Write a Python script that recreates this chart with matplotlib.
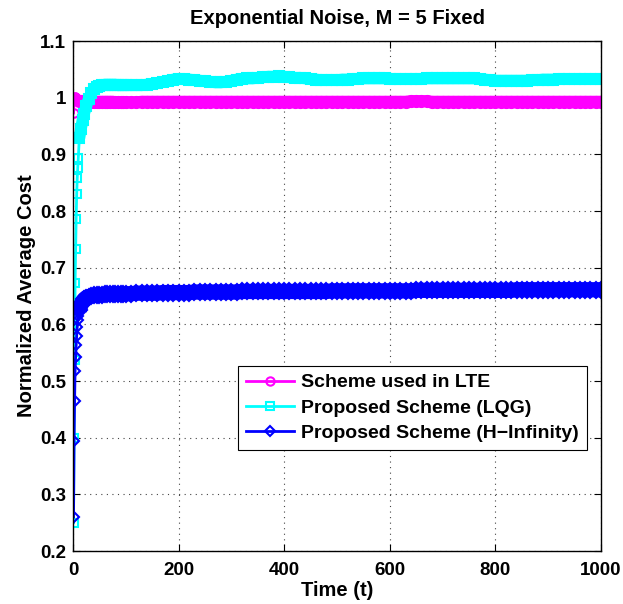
import matplotlib
matplotlib.use("Agg")
import matplotlib.pyplot as plt
import numpy as np

plt.rcParams['font.family'] = ['Liberation Sans', 'DejaVu Sans']
plt.rcParams['font.weight'] = 'bold'

# ---------------- data ----------------
t_early = [1, 2, 3, 4, 5, 6, 7, 8, 9, 10, 12, 15, 18, 21, 25, 30, 35, 40, 45,
           50, 55, 60, 65, 70, 75, 80, 85, 90, 95]
lte_early = [0.973, 0.998, 1.002, 1.001, 1.000, 0.999, 0.998, 0.997, 0.996, 0.996,
             0.995, 0.994, 0.994, 0.993, 0.993, 0.993, 0.993, 0.993, 0.993,
             0.993, 0.993, 0.993, 0.993, 0.993, 0.993, 0.992, 0.992, 0.992, 0.992]
lqg_early = [0.250, 0.400, 0.537, 0.673, 0.733, 0.786, 0.830, 0.858, 0.876, 0.893,
             0.929, 0.945, 0.960, 0.972, 0.985, 0.998, 1.008, 1.015, 1.019,
             1.021, 1.022, 1.023, 1.023, 1.023, 1.023, 1.023, 1.022, 1.022, 1.022]
hinf_early = [0.260, 0.395, 0.465, 0.518, 0.543, 0.563, 0.580, 0.595, 0.607, 0.615,
              0.625, 0.634, 0.640, 0.644, 0.647, 0.649, 0.650, 0.651, 0.651,
              0.652, 0.652, 0.653, 0.653, 0.653, 0.653, 0.654, 0.654, 0.654, 0.654]

t_late = list(range(100, 1001, 10))
lte_late = [0.992, 0.992, 0.992, 0.993, 0.993, 0.993, 0.993, 0.993, 0.993, 0.993,
            0.993, 0.993, 0.993, 0.993, 0.993, 0.993, 0.993, 0.993, 0.993, 0.993,
            0.993, 0.993, 0.993, 0.993, 0.993, 0.993, 0.993, 0.993, 0.993, 0.993,
            0.993, 0.993, 0.993, 0.993, 0.993, 0.993, 0.993, 0.993, 0.993, 0.993,
            0.993, 0.993, 0.993, 0.993, 0.993, 0.993, 0.993, 0.993, 0.993, 0.993,
            0.993, 0.993, 0.993, 0.993, 0.994, 0.994, 0.994, 0.994, 0.993, 0.993,
            0.993, 0.993, 0.993, 0.993, 0.993, 0.993, 0.993, 0.993, 0.993, 0.993,
            0.993, 0.993, 0.993, 0.993, 0.993, 0.993, 0.993, 0.993, 0.993, 0.993,
            0.993, 0.993, 0.993, 0.993, 0.993, 0.993, 0.993, 0.993, 0.993, 0.993,
            0.993]
lqg_late = [1.022, 1.022, 1.022, 1.022, 1.023, 1.024, 1.026, 1.028, 1.030, 1.032,
            1.033, 1.033, 1.032, 1.031, 1.030, 1.029, 1.028, 1.027, 1.027, 1.028,
            1.030, 1.032, 1.033, 1.034, 1.034, 1.035, 1.036, 1.037, 1.037, 1.038,
            1.037, 1.036, 1.035, 1.035, 1.034, 1.033, 1.032, 1.031, 1.031, 1.031,
            1.031, 1.032, 1.032, 1.033, 1.033, 1.034, 1.034, 1.034, 1.034, 1.034,
            1.033, 1.033, 1.033, 1.033, 1.033, 1.033, 1.033, 1.034, 1.034, 1.034,
            1.034, 1.034, 1.034, 1.034, 1.034, 1.034, 1.034, 1.033, 1.032, 1.031,
            1.030, 1.030, 1.030, 1.030, 1.030, 1.030, 1.030, 1.031, 1.031, 1.032,
            1.032, 1.032, 1.033, 1.033, 1.033, 1.033, 1.033, 1.033, 1.033, 1.033,
            1.033]
hinf_late = [0.654, 0.654, 0.655, 0.655, 0.655, 0.655, 0.655, 0.656, 0.656, 0.656,
             0.656, 0.656, 0.656, 0.657, 0.657, 0.657, 0.657, 0.657, 0.657, 0.657,
             0.657, 0.657, 0.658, 0.658, 0.658, 0.658, 0.658, 0.658, 0.658, 0.658,
             0.658, 0.658, 0.658, 0.658, 0.658, 0.658, 0.658, 0.658, 0.658, 0.659,
             0.659, 0.659, 0.659, 0.659, 0.659, 0.659, 0.659, 0.659, 0.659, 0.659,
             0.659, 0.659, 0.659, 0.659, 0.659, 0.660, 0.660, 0.660, 0.660, 0.660,
             0.660, 0.660, 0.660, 0.660, 0.660, 0.660, 0.660, 0.660, 0.660, 0.660,
             0.660, 0.660, 0.660, 0.660, 0.661, 0.661, 0.661, 0.661, 0.661, 0.661,
             0.661, 0.661, 0.661, 0.661, 0.661, 0.661, 0.661, 0.661, 0.661, 0.661,
             0.661]

t = t_early + t_late
lte = lte_early + lte_late
lqg = lqg_early + lqg_late
hinf = hinf_early + hinf_late

labels = ['Scheme used in LTE', 'Proposed Scheme (LQG)', 'Proposed Scheme (H\u2212Infinity)']
xticks = [0, 200, 400, 600, 800, 1000]
yticks = [0.2, 0.3, 0.4, 0.5, 0.6, 0.7, 0.8, 0.9, 1.0, 1.1]
yticklabels = ['0.2', '0.3', '0.4', '0.5', '0.6', '0.7', '0.8', '0.9', '1', '1.1']

# ---------------- plot ----------------
FS = 14.5
fig = plt.figure(figsize=(6.23, 6.04), dpi=100)
ax = fig.add_axes([73/623, 1 - 551/604, (601-73)/623, (551-41)/604])

# (values, colour, marker, small marker size, band marker size, band line width)
series = [
    (lte, '#ff00ff', 'o', 6.0, 8.0, 8.5),
    (lqg, '#00ffff', 's', 6.0, 7.5, 8.5),
    (hinf, '#0000ff', 'D', 4.8, 8.3, 11.0),
]
for (y, c, m, ms_small, ms_band, lw_band), lab in zip(series, labels):
    ax.plot(t, y, color=c, lw=2, marker=m, ms=ms_small, mfc='none', mew=1.5, label=lab)
    # dense, overlapping markers along the settled part form a solid band
    ax.plot(t[10:], y[10:], color=c, lw=lw_band, solid_capstyle='butt',
            solid_joinstyle='round', marker=m, ms=ms_band, mfc=c, mec=c, mew=1.5)

ax.set_xlim(0, 1000)
ax.set_ylim(0.2, 1.1)
ax.set_xticks(xticks)
ax.set_yticks(yticks)
ax.set_yticklabels(yticklabels)
ax.tick_params(direction='in', top=True, right=True, length=5, labelsize=13.5, width=0.8)
ax.tick_params(axis='x', pad=8)
ax.tick_params(axis='y', pad=5)
for lab in ax.get_xticklabels() + ax.get_yticklabels():
    lab.set_fontweight('bold')
ax.grid(True, linestyle=(0, (1, 4)), color='#444444', lw=0.8)
for s in ax.spines.values():
    s.set_linewidth(1.0)

ax.set_title('Exponential Noise, M = 5 Fixed', fontsize=FS, fontweight='bold', pad=12)
ax.set_xlabel('Time (t)', fontsize=FS, fontweight='bold', labelpad=1)
ax.set_ylabel('Normalized Average Cost', fontsize=FS, fontweight='bold', labelpad=3)

leg = ax.legend(loc='upper left', bbox_to_anchor=((238-73)/528, (551-366)/510),
                fontsize=14, frameon=True, fancybox=False, edgecolor='black',
                framealpha=1, borderpad=0.4, labelspacing=0.4, handlelength=2.5,
                handletextpad=0.35, borderaxespad=0)
leg.get_frame().set_linewidth(0.8)
for txt in leg.get_texts():
    txt.set_fontweight('bold')

fig.savefig('out.png', dpi=100)
